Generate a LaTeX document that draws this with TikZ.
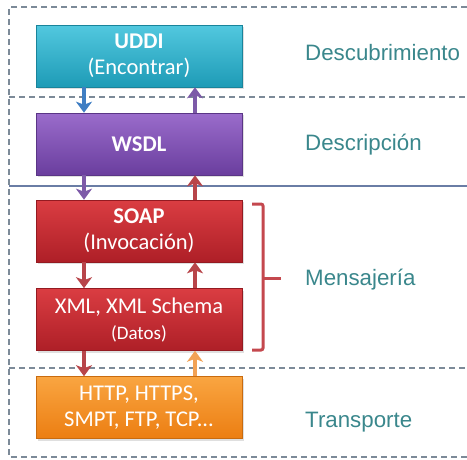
\documentclass[tikz,border=0pt]{standalone}
\usepackage{fontspec}
\setmainfont{Carlito}
\newfontfamily\labelfont{Liberation Sans}
\usetikzlibrary{arrows.meta,shadows}
\definecolor{teallbl}{HTML}{3A878C}
\definecolor{dashgray}{HTML}{7C8A98}
\definecolor{solidblue}{HTML}{6A7DA5}
\definecolor{cyanA}{HTML}{52C8DF}
\definecolor{cyanB}{HTML}{1E9BB6}
\definecolor{purA}{HTML}{9A6CCB}
\definecolor{purB}{HTML}{6A3E9E}
\definecolor{redA}{HTML}{DA3D42}
\definecolor{redB}{HTML}{AE1F27}
\definecolor{orA}{HTML}{F9A541}
\definecolor{orB}{HTML}{EC7E12}
\definecolor{arrblue}{HTML}{3F7EC3}
\definecolor{arrpur}{HTML}{7D5AA8}
\definecolor{arrred}{HTML}{B8454A}
\definecolor{arror}{HTML}{F2A255}
\definecolor{brk}{HTML}{C4484E}
\begin{document}
\begin{tikzpicture}[x=1pt,y=-1pt,
  layerbox/.style 2 args={minimum width=206pt, minimum height=62pt, inner sep=0pt,
    text=white, align=center, top color=#1, bottom color=#2, draw=#2!85!black, line width=0.6pt,
    drop shadow={shadow xshift=1.5pt, shadow yshift=-2pt, opacity=0.25},
    font=\fontsize{22.5}{26}\selectfont},
  flow/.style={line width=4pt, draw=#1, -{Stealth[length=11pt,width=16pt,inset=3pt]}},
  sep/.style={dashgray, line width=1.3pt, dash pattern=on 6pt off 4pt},
  lbl/.style={text=teallbl, anchor=west, font=\labelfont\fontsize{22.3}{25}\selectfont, inner sep=0pt}
]
\useasboundingbox (0,0) rectangle (467,459);
% frame and separators
\coordinate (tl) at (9,7);
\coordinate (bl) at (9,457);
\coordinate (tr) at (467,7);
\coordinate (br) at (467,457);
\draw[sep] (tr) -- (tl) -- (bl) -- (br);
\draw[sep] (9,97) -- (467,97);
\draw[sep] (9,368) -- (467,368);
\draw[solidblue, line width=1.2pt] (9,186) -- (467,186);
% boxes
\node[layerbox={cyanA}{cyanB}] (uddi) at (139,56) {\textbf{UDDI}\\(Encontrar)};
\node[layerbox={purA}{purB}] (wsdl) at (139,144) {\textbf{WSDL}};
\node[layerbox={redA}{redB}] (soap) at (139,231) {\textbf{SOAP}\\(Invocación)};
\node[layerbox={redA}{redB}] (xml) at (139,319.5) {XML, XML Schema\\{\fontsize{19}{23}\selectfont(Datos)}};
\node[layerbox={orA}{orB}] (http) at (139,407.5) {HTTP, HTTPS,\\SMPT, FTP, TCP...};
% arrows
\draw[flow=arrblue] ([xshift=-55pt]uddi.south) -- ([xshift=-55pt]wsdl.north);
\draw[flow=arrpur] ([xshift=56pt]wsdl.north) -- ([xshift=56pt]uddi.south);
\draw[flow=arrpur] ([xshift=-55pt]wsdl.south) -- ([xshift=-55pt]soap.north);
\draw[flow=arrred] ([xshift=56pt]soap.north) -- ([xshift=56pt]wsdl.south);
\draw[flow=arrred] ([xshift=-55pt]soap.south) -- ([xshift=-55pt]xml.north);
\draw[flow=arrred] ([xshift=56pt]xml.north) -- ([xshift=56pt]soap.south);
\draw[flow=arrred] ([xshift=-55pt]xml.south) -- ([xshift=-55pt]http.north);
\draw[flow=arror] ([xshift=56pt]http.north) -- ([xshift=56pt]xml.south);
% bracket
\coordinate (b1) at (252,204);
\coordinate (b2) at (263,204);
\coordinate (b3) at (263,350);
\coordinate (b4) at (252,350);
\coordinate (bm) at (263,278);
\coordinate (bt) at (281,278);
\draw[brk, line width=3pt, rounded corners=2pt] (b1) -- (b2) -- (b3) -- (b4);
\draw[brk, line width=3pt] (bm) -- (bt);
% labels
\node[lbl] (l1) at (305,53) {Descubrimiento};
\node[lbl] (l2) at (305,145) {Descripción};
\node[lbl] (l3) at (305,280) {Mensajería};
\node[lbl] (l4) at (305,422) {Transporte};
\end{tikzpicture}
\end{document}
